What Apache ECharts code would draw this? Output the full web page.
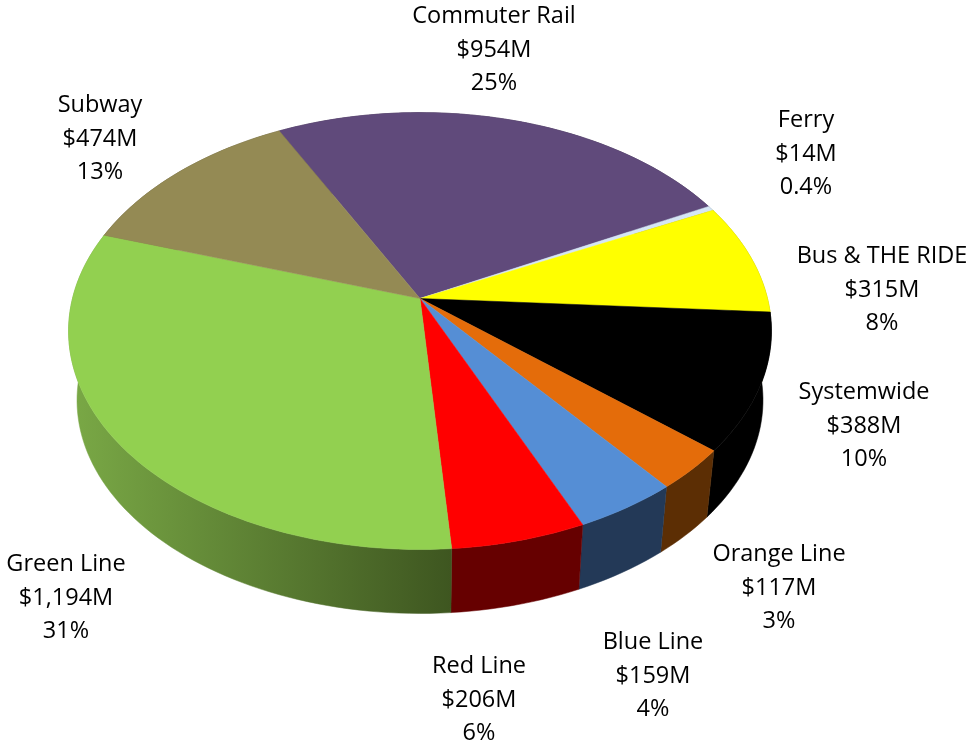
<!DOCTYPE html>
<html>
<head>
<meta charset="utf-8">
<title>Capital spending by mode</title>
<script src="https://cdn.jsdelivr.net/npm/echarts@6/dist/echarts.min.js"></script>
<style>
  html, body { margin: 0; padding: 0; background: #fff; }
  #chart { width: 967px; height: 742px; }
</style>
</head>
<body>
<div id="chart"></div>
<script>
// clockwise from the commuter rail slice
const categories = ['Commuter Rail', 'Ferry', 'Bus & THE RIDE', 'Systemwide', 'Orange Line', 'Blue Line', 'Red Line', 'Green Line', 'Subway']
const amounts = [954, 14, 315, 388, 117, 159, 206, 1194, 474]
const percentLabels = ['25%', '0.4%', '8%', '10%', '3%', '4%', '6%', '31%', '13%']

const topColors = ['#604a7b', '#d5e6f5', '#ffff00', '#000000', '#e46c0a', '#558ed5', '#ff0000', '#92d050', '#948a54']
const wallColors = ['#3f304f', '#7f8c9c', '#a6a600', '#000000', '#5c2e04', '#233957', '#660000', ['#7aa946', '#3e5620'], '#5f5936']

// label centres, same order as categories
const labelAnchors = [[494, 50], [806, 154], [882, 290], [864, 426], [779, 588], [653, 676], [479, 700], [66, 598], [100, 139]]

// projection of the tilted disc, fitted to the picture
const apex = [420, 298.5]
const radius = 347.5
const tilt = 213.6
const perspective = 0.149
const startAngle = -27.3
const wallScale = 0.976
const wallDrop = 70

const total = amounts.reduce((a, b) => a + b, 0)

function sliceRange(i) {
  const before = amounts.slice(0, i).reduce((a, b) => a + b, 0)
  return [startAngle + (before / total) * 360, startAngle + ((before + amounts[i]) / total) * 360]
}

// deg is clockwise from the back of the disc
function rimPoint(deg, lower) {
  const t = (deg * Math.PI) / 180
  const u = Math.sin(t)
  const v = Math.cos(t)
  const f = 1 / (1 + perspective * v)
  const dx = radius * u * f
  const dy = -tilt * v * f
  if (lower) {
    return [apex[0] + dx * wallScale, apex[1] + dy * wallScale + wallDrop]
  }
  return [apex[0] + dx, apex[1] + dy]
}

function arc(from, to, lower) {
  const steps = Math.max(2, Math.ceil(Math.abs(to - from) / 1.5))
  const pts = []
  for (let k = 0; k <= steps; k++) {
    pts.push(rimPoint(from + ((to - from) * k) / steps, lower))
  }
  return pts
}

function renderWall(params) {
  const i = params.dataIndex
  const [from, to] = sliceRange(i)
  const pts = arc(from, to, false).concat(arc(to, from, true))
  let fill = wallColors[i]
  if (Array.isArray(fill)) {
    const xs = pts.map((p) => p[0])
    fill = new echarts.graphic.LinearGradient(Math.min(...xs), 0, Math.max(...xs), 0, [
      { offset: 0, color: fill[0] },
      { offset: 1, color: fill[1] },
    ], true)
  }
  return {
    type: 'polygon',
    shape: { points: pts },
    style: { fill, stroke: fill, lineWidth: 0.5 },
  }
}

function renderTop(params) {
  const i = params.dataIndex
  const [from, to] = sliceRange(i)
  return {
    type: 'polygon',
    shape: { points: [apex].concat(arc(from, to, false)) },
    style: { fill: topColors[i], stroke: topColors[i], lineWidth: 0.5 },
  }
}

function renderLabel(params) {
  const i = params.dataIndex
  return {
    type: 'text',
    style: {
      x: labelAnchors[i][0],
      y: labelAnchors[i][1],
      text: categories[i] + '\n$' + amounts[i].toLocaleString('en-US') + 'M\n' + percentLabels[i],
      align: 'center',
      verticalAlign: 'middle',
      fontFamily: '"Open Sans", Lato, sans-serif',
      fontSize: 23.5,
      lineHeight: 33.5,
      fill: '#000000',
    },
  }
}

const rows = amounts.map((v, i) => [i, v])
const chart = echarts.init(document.getElementById('chart'))

chart.setOption({
  animation: false,
  backgroundColor: '#ffffff',
  series: [
    { type: 'custom', coordinateSystem: 'none', z: 1, silent: true, data: rows, renderItem: renderWall },
    { type: 'custom', coordinateSystem: 'none', z: 2, silent: true, data: rows, renderItem: renderTop },
    { type: 'custom', coordinateSystem: 'none', z: 3, silent: true, data: rows, renderItem: renderLabel },
  ],
})
</script>
</body>
</html>
